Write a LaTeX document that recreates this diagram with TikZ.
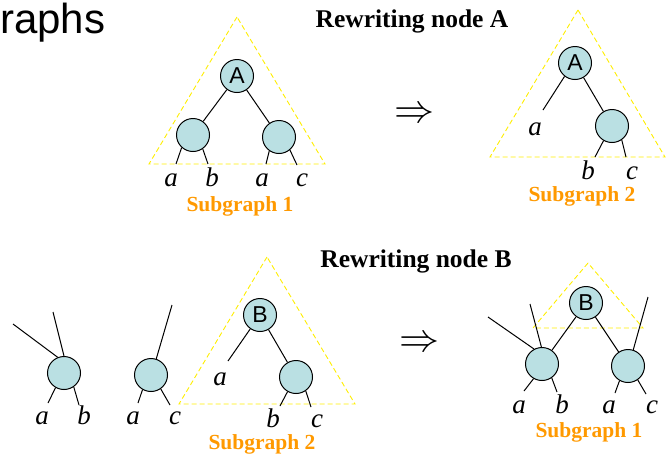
\documentclass[tikz,border=0pt]{standalone}
\usepackage{fix-cm}
\usepackage{fontspec}
\setmainfont{Liberation Serif}
\newfontfamily\arialfont{Liberation Sans}
\usepackage{xcolor}
\usetikzlibrary{calc}

\definecolor{vfill}{RGB}{186,224,227}
\definecolor{suborange}{RGB}{255,153,0}
\definecolor{triyellow}{RGB}{255,238,0}

\begin{document}
\begin{tikzpicture}[
    x=1pt, y=-1pt,
    vert/.style={circle, draw, fill=vfill, line width=1pt, minimum size=33pt, inner sep=0pt, font=\arialfont\fontsize{23}{23}\selectfont},
    lbl/.style={anchor=base, inner sep=0pt, font=\itshape\fontsize{27}{27}\selectfont},
    sublbl/.style={anchor=base, inner sep=0pt, text=suborange, font=\bfseries\fontsize{21.5}{22}\selectfont},
    head/.style={anchor=base, inner sep=0pt, font=\bfseries\fontsize{25.5}{26}\selectfont},
    imp/.style={inner sep=0pt, font=\fontsize{40}{40}\selectfont},
    tri/.style={draw=triyellow, line width=0.9pt, dash pattern=on 5pt off 3pt},
    edge/.style={line width=1pt},
]
\useasboundingbox (0,0) rectangle (666,459);

% Title (cut off on the left)
\node[anchor=base west, inner sep=0pt, font=\arialfont\fontsize{42}{42}\selectfont] (title) at (0,33) {raphs};

% Headings and arrows
\node[head] (headA) at (412,27) {Rewriting node A};
\node[head] (headB) at (416,267) {Rewriting node B};
\node[imp] (impA) at (414,115) {$\Rightarrow$};
\node[imp] (impB) at (419,344) {$\Rightarrow$};

% Subgraph triangles
\draw[tri] (237,17) -- (149,164) -- (325,164) -- cycle;
\draw[tri] (578,10) -- (490,157) -- (665,157) -- cycle;
\draw[tri] (267,257) -- (179,404) -- (355,404) -- cycle;
\draw[tri] (588,263) -- (533,328) -- (643,328) -- cycle;

% Subgraph 1 (top left)
\node[vert] (A1) at (237,76) {A};
\node[vert] (A1l) at (193,135) {};
\node[vert] (A1r) at (279,137) {};
\coordinate (A1la) at (176,164);
\coordinate (A1lb) at (208,164);
\coordinate (A1ra) at (266,164);
\coordinate (A1rc) at (297,165);
\draw[edge] (A1) -- (A1l);
\draw[edge] (A1) -- (A1r);
\draw[edge] (A1l.228) -- (A1la);
\draw[edge] (A1l.305) -- (A1lb);
\draw[edge] (A1r.235) -- (A1ra);
\draw[edge] (A1r.310) -- (A1rc);
\node[lbl] (ta1) at (171,186) {a};
\node[lbl] (tb1) at (212,186) {b};
\node[lbl] (ta2) at (262,186) {a};
\node[lbl] (tc1) at (302,186) {c};
\node[sublbl] (sub1) at (240,211) {Subgraph 1};

% Subgraph 2 (top right)
\node[vert] (A2) at (575,63) {A};
\node[vert] (A2r) at (612,126) {};
\coordinate (A2a) at (543,110);
\coordinate (A2rb) at (595,157);
\coordinate (A2rc) at (626,157);
\draw[edge] (A2.232) -- (A2a);
\draw[edge] (A2) -- (A2r);
\draw[edge] (A2r.240) -- (A2rb);
\draw[edge] (A2r.305) -- (A2rc);
\node[lbl] (ta3) at (535,135) {a};
\node[lbl] (tb2) at (588,179) {b};
\node[lbl] (tc2) at (632,179) {c};
\node[sublbl] (sub2) at (582,201) {Subgraph 2};

% Graph before rewriting B (bottom left)
\node[vert] (N1) at (64,373) {};
\node[vert] (N2) at (151,375) {};
\coordinate (N1in1) at (13,324);
\coordinate (N1in2) at (53,312);
\coordinate (N2in) at (172,305);
\coordinate (N1a) at (48,403);
\coordinate (N1b) at (79,405);
\coordinate (N2a) at (138,403);
\coordinate (N2c) at (170,405);
\draw[edge] (N1in1) -- (N1.112);
\draw[edge] (N1in2) -- (N1.90);
\draw[edge] (N2in) -- (N2.72);
\draw[edge] (N1.240) -- (N1a);
\draw[edge] (N1.305) -- (N1b);
\draw[edge] (N2.240) -- (N2a);
\draw[edge] (N2.305) -- (N2c);
\node[lbl] (ba1) at (42,424) {a};
\node[lbl] (bb1) at (84,424) {b};
\node[lbl] (ba2) at (133,424) {a};
\node[lbl] (bc1) at (175,424) {c};

\node[vert] (B1) at (260,315) {B};
\node[vert] (B1r) at (296,377) {};
\coordinate (B1a) at (228,361);
\coordinate (B1rb) at (280,406);
\coordinate (B1rc) at (311,407);
\draw[edge] (B1.235) -- (B1a);
\draw[edge] (B1) -- (B1r);
\draw[edge] (B1r.240) -- (B1rb);
\draw[edge] (B1r.305) -- (B1rc);
\node[lbl] (ba3) at (220,385) {a};
\node[lbl] (bb2) at (273,427) {b};
\node[lbl] (bc2) at (317,427) {c};
\node[sublbl] (sub3) at (262,449) {Subgraph 2};

% Graph after rewriting B (bottom right)
\node[vert] (B2) at (586,303) {B};
\node[vert] (B2l) at (542,364) {};
\node[vert] (B2r) at (628,366) {};
\coordinate (B2in1) at (488,317);
\coordinate (B2in2) at (530,304);
\coordinate (B2in3) at (648,297);
\coordinate (B2la) at (524,391);
\coordinate (B2lb) at (557,392);
\coordinate (B2ra) at (615,393);
\coordinate (B2rc) at (646,394);
\draw[edge] (B2) -- (B2l);
\draw[edge] (B2) -- (B2r);
\draw[edge] (B2in1) -- (B2l.118);
\draw[edge] (B2in2) -- (B2l.92);
\draw[edge] (B2in3) -- (B2r.72);
\draw[edge] (B2l.240) -- (B2la);
\draw[edge] (B2l.305) -- (B2lb);
\draw[edge] (B2r.240) -- (B2ra);
\draw[edge] (B2r.305) -- (B2rc);
\node[lbl] (ra1) at (519,413) {a};
\node[lbl] (rb1) at (562,413) {b};
\node[lbl] (ra2) at (609,413) {a};
\node[lbl] (rc1) at (652,413) {c};
\node[sublbl] (sub4) at (589,437) {Subgraph 1};
\end{tikzpicture}
\end{document}
